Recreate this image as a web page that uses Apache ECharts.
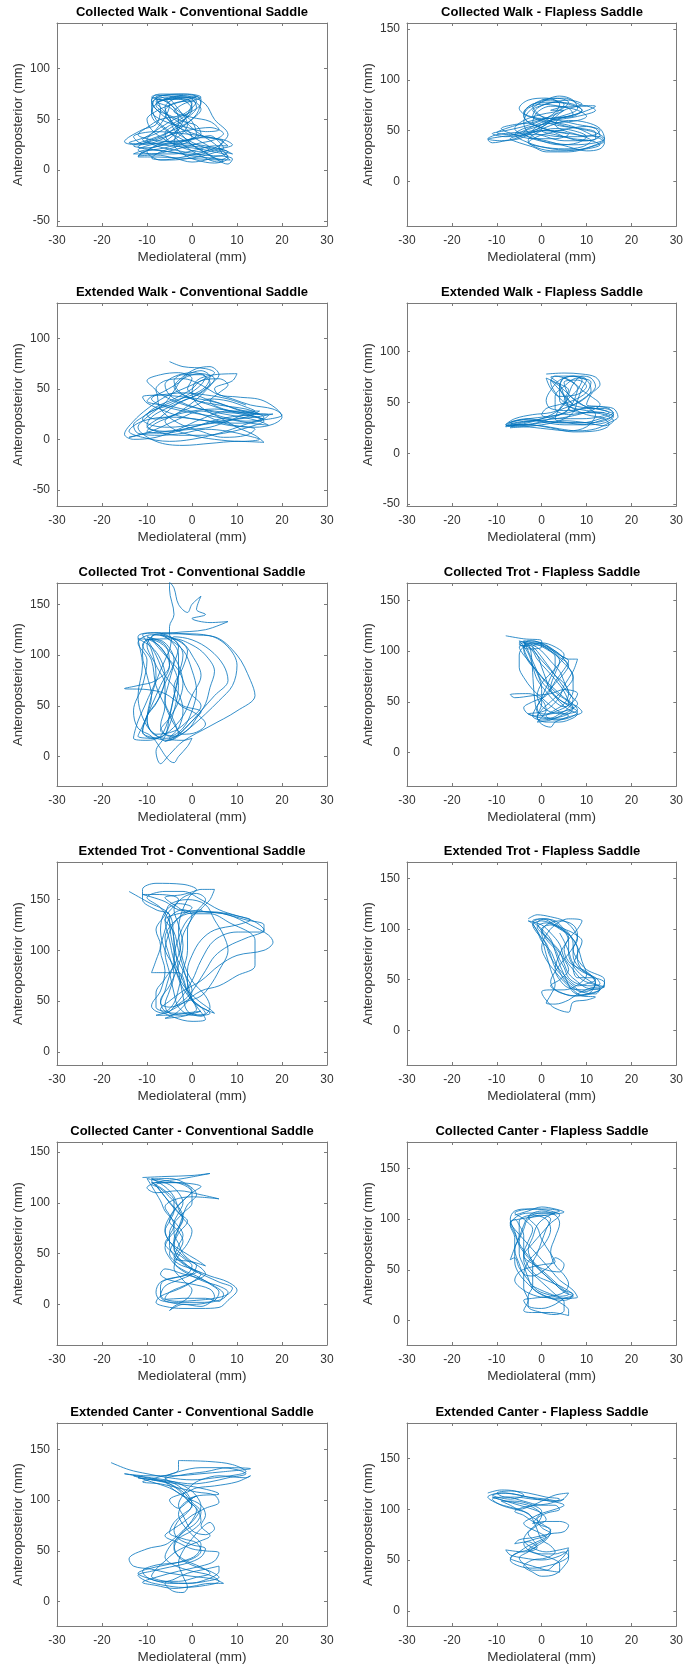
<!DOCTYPE html>
<html>
<head>
<meta charset="utf-8">
<script src="https://cdn.jsdelivr.net/npm/echarts@6/dist/echarts.min.js"></script>
<style>
html,body{margin:0;padding:0;background:#fff;}
#main{width:686px;height:1667px;}
</style>
</head>
<body>
<div id="main"></div>
<script>
// panel titles, left column = conventional saddle, right = flapless
var titles = [
    "Collected Walk - Conventional Saddle", "Collected Walk - Flapless Saddle",
    "Extended Walk - Conventional Saddle", "Extended Walk - Flapless Saddle",
    "Collected Trot - Conventional Saddle", "Collected Trot - Flapless Saddle",
    "Extended Trot - Conventional Saddle", "Extended Trot - Flapless Saddle",
    "Collected Canter - Conventional Saddle", "Collected Canter - Flapless Saddle",
    "Extended Canter - Conventional Saddle", "Extended Canter - Flapless Saddle"
];
var yMins = [-55, -44, -66, -52, -29, -33, -13, -34, -40, -24, -24, -15];
var yMaxs = [145, 156, 135, 148, 171, 167, 187, 166, 160, 176, 176, 185];
var xTicks = [-30, -20, -10, 0, 10, 20, 30];
var yTickSets = [
    [-50, 0, 50, 100], [0, 50, 100, 150],
    [-50, 0, 50, 100], [-50, 0, 50, 100],
    [0, 50, 100, 150], [0, 50, 100, 150],
    [0, 50, 100, 150], [0, 50, 100, 150],
    [0, 50, 100, 150], [0, 50, 100, 150],
    [0, 50, 100, 150], [0, 50, 100, 150]
];

// mediolateral / anteroposterior paths (mm)
var cwConv = [[-5,72],[-1,73],[2,70],[1,55],[-3,40],[-8,28],[-12,25],[-15,28],[-11,40],[-8,45],[-7,60],[-8,72],[-4,74],[0,72],[3,65],[5,50],[8,35],[6,22],[8.5,10],[5,12],[2,20],[-2,30],[-6,40],[-9,55],[-8,70],[-5,66],[-3,50],[-4,35],[-9,22],[-12,14],[-8,15],[-4,12],[0,8],[3,10],[6,14],[9,11],[8,6],[4,15],[0,25],[-4,45],[-6,62],[-2,72],[1,68],[-2,55],[-7,50],[-10,42],[-12,35],[-9,30],[-4,28],[2,32],[7,30],[9,25],[5,20],[1,15],[-3,17],[-8,20],[-12,23],[-10,28],[-6,35],[-3,45],[0,60],[-3,70],[-7,68],[-9,58],[-6,48],[-1,42],[3,38],[6,40],[4,48],[0,52],[-4,58],[-2,65],[2,72],[-1,75],[-6,74],[-9,65],[-8,50],[-5,38],[-2,25],[2,14],[6,8],[8,12],[5,26],[1,38],[-2,50],[-5,62],[-8,68],[-6,72],[-3,60],[-1,45],[-4,30],[-10,18],[-7,10],[-2,13],[4,20],[7,28],[3,33],[-2,36],[-8,38],[-13,33],[-11,26],
    [-9,26],[-5,24],[0,22],[5,18],[8,14],[6,10],[2,11],[-3,12],[-8,13],[-12,13],[-11,18],[-6,22],[-2,28],[1,35],[0,48],[-3,58],[-6,68],[-9,72],[-7,75],[-3,75],[1,73],[2,66],[0,58],[-4,50],[-7,42],[-9,36],[-11,30],[-7,26],[-2,26],[3,24],[7,20],[9,16],[7,18],[3,22],[-1,30],[-4,40],[-5,52],[-7,62],[-8,66],[-5,70],[-1,70],[0,62],[-2,52],[-5,44],[-8,36],[-12,30],[-14,27],[-12,26],[-8,30],[-4,36],[0,40],[4,42],[7,36],[5,30],[1,26],[-4,20],[-9,16],[-13,16],[-10,20],[-5,18],[0,14],[4,12],[7,9],[5,7],[1,10],[-2,16],[-4,26],[-3,40],[-1,55],[0,66],[-4,72],[-8,74],[-9,68],[-7,56],[-4,46],[-1,36],[2,28],[4,22],[2,18],[-2,22],[-6,30],[-9,40],[-10,50],[-8,58],[-5,64],[-2,68],[1,72],
    [-6,70],[-3,72],[0,70],[1,62],[-1,52],[-4,44],[-6,36],[-5,28],[-1,24],[4,22],[8,18],[6,14],[1,16],[-4,20],[-8,24],[-10,30],[-8,40],[-6,52],[-5,64],[-7,72],[-9,70],[-8,60],[-5,54],[-2,48],[1,44],[2,36],[-1,30],[-6,28],[-10,24],[-12,20],[-9,16],[-4,16],[1,20],[5,24],[8,24],[6,30],[2,34],[-2,40],[-5,48],[-6,58],[-4,66],[0,68],[2,60],[0,50],[-3,42],[-7,34],[-11,28],[-13,24],[-10,22],[-5,26],[0,30],[4,34],[6,28],[7,22],[4,16],[0,12],[-5,10],[-9,12],[-7,18],[-3,24],[0,32],[-2,44],[-6,56],[-8,64],[-6,70],[-2,74]];
var cwFlap = [[0,80],[5,82],[9,75],[12,74],[9,68],[4,62],[0,58],[-3,52],[-6,46],[-9,44],[-12,41],[-11,38],[-8,40],[-5,42],[-2,48],[2,55],[6,60],[10,58],[13,52],[14,42],[12,36],[8,31],[3,30],[-1,33],[-3,40],[-1,48],[3,52],[7,50],[10,44],[8,38],[4,36],[0,40],[-3,48],[-4,58],[-3,68],[0,78],[4,84],[7,80],[8,72],[5,65],[1,62],[-3,64],[-5,72],[-3,80],[1,82],[4,76],[3,68],[0,60],[-4,54],[-8,50],[-11,47],[-8,44],[-4,46],[0,50],[5,48],[9,45],[13,44],[14,40],[11,34],[6,29],[1,29],[-2,34],[-5,38],[-7,42],[-4,46],[1,56],[5,70],[9,76],[6,80],[1,76],[-2,70],[0,64],[4,60],[8,56],[12,52],[13,45],[10,40],[5,40],[1,44],[-2,50],[0,56],[3,62],[7,66],[6,72],[2,74],[-1,68],[-2,58],[2,50],[6,46],[3,42],[-2,42],[-6,46],[-9,52],[-6,56],[-2,58],[2,64],[5,70],
    [2,70],[6,74],[10,74],[12,70],[8,64],[3,60],[-1,54],[-4,48],[-2,42],[2,38],[7,36],[12,38],[14,42],[12,48],[8,52],[4,56],[0,64],[-2,74],[0,80],[3,82],[6,78],[4,70],[0,66],[-4,60],[-6,52],[-3,44],[1,40],[6,34],[10,30],[13,32],[14,38],[11,46],[7,54],[3,58],[-1,62],[-4,68],[-2,76],[2,80],[5,76],[3,66],[1,56],[-2,50],[-6,48],[-10,46],[-12,42],[-9,40],[-6,42],[-3,46],[0,46],[4,44],[8,44],[12,46],[13,50],[10,54],[6,52],[2,48],[-1,44],[-3,38],[0,34],[5,32],[9,34],[11,40],[8,46],[5,50],[3,56],[4,62],[7,64],[9,70],[6,76],[2,78],[-2,76],[-4,66],[-3,58],[0,52],
    [0,50],[3,46],[7,42],[11,40],[13,36],[10,32],[5,31],[0,34],[-4,40],[-6,46],[-4,52],[0,56],[4,58],[8,60],[10,64],[8,70],[4,74],[0,76],[-3,72],[-4,64],[-2,56],[2,50],[5,44],[9,40],[12,42],[12,48],[9,52],[5,54],[1,58],[-2,64],[-1,72],[3,78],[7,76],[9,70],[6,64],[2,62],[-2,60],[-5,56],[-8,52],[-10,48],[-7,46],[-3,48],[1,50],[5,50]];
var ewConv = [[-5,77],[-2,72],[3,70],[5,66],[2,58],[-2,50],[-6,42],[-10,30],[-13,18],[-15,5],[-13,0],[-8,2],[-3,10],[2,20],[8,28],[15,28],[12,22],[6,18],[0,12],[-6,6],[-10,8],[-8,16],[-4,24],[0,36],[3,48],[5,60],[2,65],[-2,60],[-4,48],[-6,36],[-10,22],[-12,12],[-8,-2],[-2,-6],[4,-4],[10,-2],[16,-3],[14,4],[10,12],[6,22],[2,32],[0,45],[1,58],[5,64],[10,65],[9,58],[5,50],[6,44],[10,42],[16,38],[20,22],[18,15],[14,12],[8,15],[2,25],[-4,32],[-10,38],[-8,44],[-2,42],[4,38],[10,30],[16,22],[12,15],[6,6],[0,0],[-5,-2],[-11,2],[-14,8],[-11,18],[-5,22],[1,20],[8,14],[14,10],[12,4],[7,2],[2,8],[-3,16],[-7,30],[-8,48],[-10,58],[-7,64],[-3,66],[0,60],[-1,50],[2,42],[6,36],[11,28],[15,25],[12,30],[6,34],[0,40],[-4,52],[-2,62],[1,70],[4,72],[6,64],[4,54],[1,44],[-3,36],[-7,22],[-10,12],[-6,8],[0,12],[6,20],[12,24],[18,25],
    [14,22],[10,20],[5,16],[0,14],[-5,12],[-9,14],[-11,20],[-9,28],[-5,34],[-1,44],[2,54],[3,62],[0,66],[-4,62],[-6,54],[-5,44],[-2,36],[2,30],[6,26],[11,22],[15,18],[17,14],[13,16],[8,20],[3,24],[-2,28],[-7,34],[-9,40],[-6,48],[-3,56],[-1,64],[2,68],[4,62],[3,52],[0,44],[-4,38],[-8,30],[-11,22],[-13,14],[-12,6],[-7,4],[-2,6],[3,10],[8,8],[12,4],[15,0],[11,-2],[5,0],[0,4],[-4,10],[-6,18],[-3,26],[1,34],[4,40],[8,38],[12,32],[14,28],[10,26],[5,28],[0,32],[-5,40],[-8,50],[-6,58],[-2,60],[2,54],[5,46],[9,40],[13,34],[18,30],[20,24],[17,20],[12,18],[7,22],[2,28],[-3,20],[-8,10],[-12,4],[-14,2],
    [-10,6],[-5,8],[0,10],[4,12],[8,18],[12,24],[16,20],[12,24],[8,28],[4,34],[0,40],[-3,48],[-4,58],[-2,64],[2,64],[4,56],[2,46],[-2,38],[-6,30],[-9,22],[-10,14],[-8,8],[-3,4],[2,4],[7,6],[11,10],[14,14],[16,18],[13,24],[9,28],[5,30],[0,28],[-4,24],[-8,20],[-10,24],[-8,32],[-4,40],[0,50],[2,58],[6,60],[8,54],[6,46],[4,38],[7,30],[12,26],[17,24],[15,18],[10,16],[4,18],[-2,22],[-6,28],[-10,36],[-11,42],[-7,44],[-2,46],[3,44],[8,40],[12,34]];
var ewFlap = [[1,78],[5,79],[9,78],[12,75],[13,68],[11,58],[10,48],[13,46],[16,44],[17,36],[15,30],[12,24],[8,22],[4,24],[0,27],[-4,28],[-8,26],[-7,30],[-3,34],[1,36],[5,40],[7,50],[8,62],[9,72],[7,76],[4,72],[2,62],[1,52],[2,44],[6,42],[10,44],[14,44],[16,40],[13,34],[9,30],[4,30],[0,32],[-4,33],[-7,30],[-5,28],[-1,30],[3,36],[6,44],[5,56],[4,68],[2,75],[6,76],[10,72],[11,62],[9,52],[6,46],[2,40],[-2,38],[-6,34],[-8,28],[-5,27],[0,30],[5,32],[10,30],[14,27],[16,32],[14,38],[10,40],[6,38],[3,44],[3,56],[5,66],[8,74],[11,70],[10,60],[7,52],[4,48],[1,44],[0,38],[4,34],[9,34],[13,36],[15,40],[12,44],[8,46],[5,52],[6,62],[3,70],[1,74],[2,64],[4,56],[8,58],[10,66],[8,72],[5,70],[6,58],[9,48],[12,38],[10,26],[6,22],[1,24],[-4,26],[-7,25],
    [-6,28],[-2,32],[2,36],[6,40],[9,44],[12,46],[15,44],[16,38],[13,32],[9,28],[5,28],[1,30],[-2,32],[-6,30],[-8,27],[-4,29],[0,34],[3,40],[5,48],[6,58],[7,68],[9,76],[11,74],[12,66],[10,56],[8,50],[6,44],[9,40],[13,40],[16,36],[14,30],[10,28],[6,30],[3,34],[4,44],[6,54],[8,64],[6,72],[3,76],[2,70],[3,60],[5,50],[7,44],[10,38],[14,34],[15,28],[12,22],[7,21],[2,25],[-3,28],[-7,28],[-4,31],[1,33],[6,36],[11,42],[13,48],[11,56],[9,62],[7,70],[5,74],[4,66],[5,56],[7,48],
    [2,72],[4,66],[6,58],[8,50],[10,46],[14,42],[16,38],[14,32],[10,30],[5,30],[0,32],[-3,34],[-6,32],[-8,28],[-5,26],[0,28],[4,32],[7,40],[8,52],[9,64],[10,72],[8,76],[5,74],[4,64],[4,52],[6,46],[10,42],[14,40]];
var ctConv = [[-6,15],[-10,30],[-12,60],[-11,90],[-12,118],[-8,122],[-4,115],[-2,100],[-3,80],[-4,60],[-5,40],[-7,20],[-10,16],[-13,18],[-12,35],[-10,55],[-8,80],[-9,105],[-11,120],[-6,122],[0,120],[5,118],[10,100],[13,75],[14,60],[10,45],[4,30],[-2,15],[-5,2],[-7,-7],[-8,5],[-6,20],[-4,45],[-3,70],[-5,95],[-8,112],[-10,118],[-6,110],[-5,90],[-7,70],[-9,50],[-11,30],[-12,20],[-8,18],[-5,25],[-2,40],[0,60],[2,80],[0,100],[-2,112],[-5,120],[-5,128],[-4,140],[-5,165],[-5,172],[-4,166],[-3,150],[-1,142],[0,150],[2,158],[1,145],[3,140],[0,136],[4,132],[8,133],[3,125],[-4,122],[-9,118],[-6,100],[-3,85],[-1,65],[2,50],[-1,35],[-4,25],[-8,22],[-10,35],[-9,60],[-7,85],[-5,105],[-4,118],[0,115],[4,105],[7,90],[8,75],[5,60],[2,45],[-1,30],[-4,18],[-6,15],[-3,22],[0,35],[2,44],[-2,50],[-6,62],[-10,66],[-15,67],[-12,70],[-8,75],[-5,90],[-7,108],[-10,116],[-8,100],[-6,80],[-3,62],[-2,45],[-3,28],[-5,18],[-2,16],[0,18],[-1,10],[-3,0],[-4,-6],
    [-9,20],[-12,28],[-13,45],[-11,70],[-10,95],[-12,112],[-9,120],[-5,118],[-3,108],[-4,92],[-6,72],[-8,52],[-10,38],[-9,24],[-6,18],[-3,22],[-4,35],[-6,55],[-5,75],[-4,95],[-6,112],[-9,116],[-11,110],[-9,95],[-8,70],[-6,50],[-4,32],[-2,22],[1,24],[3,32],[1,42],[-3,52],[-4,68],[-2,88],[-1,104],[-3,114],[-7,120],[-2,121],[4,119],[8,108],[10,90],[9,70],[6,55],[3,42],[0,30],[-3,20],[-5,16],[-8,18],[-11,24],[-10,40],[-7,60],[-6,80],[-7,96],[-9,108],[-12,116],[-8,114],[-5,104],[-3,90],[-2,72],[-3,54],[-5,38],[-7,26],[-4,20],[-1,26],[1,38],[3,52],[4,68],[5,84],[3,100],[0,110],[-4,116],
    [-10,115],[-11,100],[-10,80],[-9,60],[-10,40],[-11,25],[-9,18],[-6,22],[-5,40],[-4,60],[-3,80],[-3,100],[-5,115],[-8,120],[-10,110],[-8,90],[-6,70],[-6,50],[-7,30],[-5,20],[-2,28],[0,45],[1,65],[0,85],[-2,105],[-6,118]];
var ctFlap = [[-8,115],[-4,112],[0,110],[0,104],[-3,102],[-5,108],[-2,110],[2,100],[5,88],[7,75],[7,60],[6,50],[8,45],[9,40],[6,35],[3,30],[2,25],[0,28],[-1,35],[0,48],[0,62],[-1,78],[-3,92],[-4,104],[-1,108],[3,100],[6,92],[8,92],[7,80],[5,66],[4,55],[2,45],[0,40],[-3,38],[-1,36],[2,38],[6,42],[8,48],[6,58],[4,70],[2,82],[0,94],[-2,104],[-5,110],[-3,98],[-2,85],[-1,72],[1,60],[3,50],[5,45],[7,50],[8,58],[5,62],[2,58],[-2,56],[-6,54],[-7,57],[-3,58],[0,52],[1,42],[-1,30],[2,32],[5,38],[7,44],[4,52],[2,64],[3,78],[4,90],[2,100],[-1,106],[-4,104],[-5,96],[-5,84],[-4,74],[-2,62],[0,54],[2,46],[4,40],[6,36],[4,33],[0,34],[-3,38],[-4,44],[-2,50],[1,56],[3,70],[5,82],[6,90],[4,96],[1,104],[-2,108],[-4,108],[-2,100],[-1,92],[1,82],[3,72],[5,60],[6,48],[4,42],[1,38],[-1,40],
    [-3,106],[-5,104],[-4,96],[-2,86],[0,74],[2,64],[4,56],[6,50],[7,44],[6,38],[3,34],[0,32],[-2,36],[-1,46],[1,58],[3,68],[5,78],[6,86],[4,94],[2,102],[0,108],[-3,110],[-4,102],[-3,90],[-1,80],[1,70],[3,62],[5,54],[7,48],[8,42],[5,38],[2,40],[0,46],[-1,56],[0,68],[2,78],[4,88],[5,96],[3,104],[0,108],[-2,104],[-1,96],[1,86],[3,76],[5,68],[6,58],[5,48],[3,42],[1,36],[3,32],[6,34],[8,40],[6,46],[4,52],[2,60],[1,72],[0,84],[-1,96],[-3,104],[-5,106],
    [-4,108],[-2,106],[0,100],[2,90],[4,80],[5,70],[6,60],[7,52],[6,44],[4,38],[2,34],[0,36],[-1,44],[0,54],[1,64],[2,74],[3,84],[3,94],[1,102],[-2,108],[-4,110],[-3,100],[-2,90],[-1,80],[0,70],[2,60],[4,50],[6,42],[8,38],[7,34],[4,30],[1,30],[-1,34],[0,42],[2,50],[4,58],[6,66],[7,74],[6,84],[5,92],[3,100],[1,106]];
var etConv = [[-14,158],[-10,148],[-5,135],[-4,110],[-3,80],[-2,55],[-1,40],[2,35],[4,44],[3,55],[0,70],[-2,90],[-3,120],[-1,150],[2,160],[5,160],[4,150],[2,140],[7,136],[12,130],[16,125],[16,118],[10,118],[5,110],[2,90],[0,70],[-3,50],[-6,38],[-8,40],[-9,45],[-7,60],[-6,80],[-7,100],[-6,120],[-5,135],[-8,140],[-11,150],[-11,160],[-8,166],[-2,165],[1,160],[-2,155],[-6,152],[-4,145],[0,136],[4,136],[8,128],[14,110],[14,85],[10,75],[6,65],[2,60],[-2,48],[-5,40],[-8,36],[-5,36],[-1,38],[2,36],[4,38],[0,50],[-2,70],[-4,90],[-5,110],[-6,130],[-3,150],[-8,155],[-11,155],[-6,148],[-3,140],[3,138],[8,135],[13,125],[17,115],[18,108],[16,100],[10,95],[6,85],[2,70],[-2,60],[-5,50],[-7,42],[-4,34],[0,30],[3,32],[1,45],[-1,60],[-3,78],[-9,78],[-8,90],[-7,105],[-8,120],[-6,135],[-5,145],[-1,150],[3,145],[5,130],[7,115],[8,100],[6,80],[4,65],[2,55],[-1,50],[-5,44],[-7,48],[-6,60],[-5,75],[-3,95],[-2,115],[0,135],[-2,140],[-5,130],[-4,100],[-2,80],[0,60],[-3,40],[-6,33],[-2,35],[2,40],
    [-3,38],[-6,40],[-7,50],[-5,65],[-3,85],[-2,105],[-3,125],[-4,140],[-2,152],[1,156],[3,150],[1,138],[-1,120],[-1,100],[-2,80],[-3,62],[-4,48],[-6,40],[-8,44],[-8,58],[-6,72],[-4,88],[-4,108],[-5,128],[-7,142],[-10,152],[-6,158],[-2,158],[2,150],[6,140],[10,134],[13,130],[10,125],[5,120],[2,110],[0,95],[-1,80],[-1,65],[0,52],[2,44],[3,38],[0,36],[-3,44],[-4,58],[-5,78],[-6,98],[-5,118],[-3,132],[0,142],[-3,146],[-6,138],[-7,120],[-6,100],[-4,84],[-2,66],[1,52],[4,42],[5,38],[2,44],[-1,56],[-3,72],[-4,92],[-3,112],[-1,130],[2,140],
    [-6,130],[-4,118],[-3,100],[-2,84],[-1,68],[0,52],[1,42],[-2,36],[-5,38],[-6,46],[-5,60],[-4,76],[-5,94],[-6,112],[-4,128],[-1,136],[4,138],[10,134],[14,128],[16,120],[12,112],[8,104],[5,94],[3,80],[1,66],[-1,54],[-4,44]];
var etFlap = [[-3,110],[-1,114],[2,112],[5,108],[7,100],[8,90],[7,80],[8,70],[10,60],[14,50],[14,44],[11,42],[8,36],[6,30],[3,26],[1,27],[2,35],[3,45],[2,60],[1,75],[0,90],[-2,105],[-3,108],[0,104],[2,96],[4,85],[5,72],[7,60],[9,50],[12,45],[14,43],[10,40],[6,42],[4,50],[3,60],[4,75],[6,90],[8,100],[9,108],[6,110],[3,104],[1,94],[0,82],[1,70],[3,58],[5,48],[7,40],[9,34],[12,33],[10,30],[7,28],[6,18],[4,20],[2,25],[0,38],[2,40],[5,40],[8,45],[10,55],[9,68],[8,82],[6,95],[3,104],[0,110],[-2,108],[0,100],[2,90],[3,78],[4,65],[5,55],[6,45],[7,38],[9,35],[11,38],[12,48],[10,58],[8,62],[6,68],[5,80],[6,92],[4,100],[1,106],[-1,102],[1,92],[3,82],[5,70],[6,60],[4,50],[2,44],[4,38],[7,34],[10,36],[13,40],[14,47],[11,52],[8,52],[7,62],[8,76],[9,88],[7,96],[5,100],
    [3,104],[0,108],[-2,104],[-1,96],[1,86],[2,74],[3,62],[5,52],[7,44],[9,38],[12,36],[13,42],[11,48],[9,54],[7,64],[6,76],[6,88],[5,98],[3,106],[1,110],[-1,106],[0,98],[2,88],[4,78],[5,66],[6,56],[8,48],[10,42],[13,40],[11,36],[8,34],[5,36],[3,40],[2,48],[3,58],[5,70],[7,82],[8,94],[7,104],[4,108],[1,104],[0,96],[1,84],[2,72],[4,60],[6,50],[8,44],[10,46],[12,50],[10,56],[8,64],[7,74],[7,86],[6,96],
    [5,100],[3,108],[0,110],[-2,106],[-1,98],[0,88],[2,78],[3,68],[4,58],[5,50],[7,42],[9,38],[11,40],[12,46],[11,54],[9,60],[8,70],[8,80],[7,90],[5,98],[2,104],[0,100],[1,90],[3,80],[4,70],[5,62],[6,52],[8,46],[11,44],[13,46],[12,52],[9,58],[7,66],[6,78],[5,88],[4,96]];
var ccConv = [[-11,125],[-6,126],[0,127],[4,129],[-2,124],[-8,120],[-10,115],[-8,110],[-3,112],[2,108],[6,104],[0,106],[-4,103],[-6,96],[-5,88],[-4,78],[-5,68],[-6,60],[-4,50],[-2,42],[0,35],[2,30],[0,22],[-3,15],[-7,8],[-8,2],[-6,-2],[-2,-4],[2,-4],[6,-3],[8,4],[10,14],[8,22],[4,28],[0,35],[-3,40],[-5,50],[-4,62],[-3,75],[-2,88],[-1,98],[1,108],[-1,118],[-5,124],[-9,122],[-7,112],[-5,100],[-3,90],[-1,82],[-3,70],[-4,58],[-3,45],[-1,38],[1,32],[-2,28],[-6,24],[-7,18],[-7,10],[-6,5],[-2,6],[3,6],[6,3],[7,10],[5,18],[2,25],[-2,30],[-6,35],[-7,30],[-5,24],[0,20],[4,15],[5,8],[2,-2],[-2,0],[-5,-6],[-4,-2],[-1,6],[0,14],[-2,24],[-4,36],[-3,48],[-1,60],[0,72],[-2,85],[-4,96],[-6,106],[-8,118],[-4,120],[2,116],[0,110],[-3,98],[-5,86],[-6,74],[-5,62],[-2,52],[1,44],[3,38],[0,42],[-4,46],[-3,58],[-2,68],[-4,82],[-6,92],[-7,102],[-10,124],
    [-8,122],[-5,118],[-3,110],[-2,100],[-3,90],[-4,80],[-4,70],[-3,60],[-2,50],[0,42],[2,36],[3,30],[1,24],[-2,18],[-5,12],[-6,6],[-3,3],[1,4],[5,6],[8,10],[9,16],[6,22],[3,28],[0,34],[-2,40],[-4,48],[-5,58],[-5,70],[-4,80],[-2,90],[0,100],[0,110],[-2,118],[-6,122],[-9,124],[-6,116],[-4,106],[-3,94],[-2,84],[-3,74],[-4,64],[-4,54],[-2,46],[0,38],[-1,30],[-4,26],[-7,22],[-8,12],[-7,4],[-3,2],[2,2],[5,4],[6,12],[4,20],[1,28],[-2,34],[-4,42],[-3,52],[-2,62],[-3,72],[-5,82],[-4,92],[-2,102],[0,112],[-3,120],
    [-9,120],[-6,112],[-4,102],[-4,92],[-5,82],[-6,72],[-5,62],[-3,52],[-1,44],[1,38],[0,30],[-3,24],[-6,18],[-7,8],[-5,2],[0,0],[4,2],[7,6],[8,12],[6,18],[3,22],[0,28],[-3,36],[-5,46],[-6,56],[-5,66],[-3,76],[-2,86],[-3,96],[-5,106],[-7,114],[-9,118]];
var ccFlap = [[-6,104],[-3,108],[0,112],[3,110],[5,107],[1,104],[-2,102],[-5,100],[-7,97],[-6,90],[-4,80],[-2,70],[0,60],[2,50],[4,40],[7,30],[8,23],[5,22],[2,25],[-1,30],[-3,40],[-5,52],[-6,62],[-7,60],[-6,72],[-5,85],[-5,98],[-2,104],[1,100],[2,90],[1,78],[-1,68],[-3,58],[-4,45],[-4,32],[-3,20],[-4,10],[-2,8],[2,8],[6,5],[6,10],[4,18],[2,22],[-1,24],[-4,30],[-6,40],[-5,48],[-3,52],[0,55],[3,58],[2,66],[0,80],[-1,92],[-3,102],[0,108],[3,104],[4,96],[3,82],[2,68],[3,55],[5,45],[6,36],[5,28],[2,24],[-2,22],[-4,20],[-3,14],[0,12],[3,16],[5,22],[7,25],[5,32],[2,38],[-1,44],[-3,54],[-4,66],[-3,78],[-2,90],[-4,100],[-6,106],[-2,110],[2,108],[4,104],[2,96],[0,86],[-2,76],[-4,64],[-2,56],[1,50],[4,48],[5,55],[3,62],[2,55],[0,48],[-2,44],[-4,46],[-5,56],[-6,70],[-6,82],[-7,94],
    [-5,104],[-2,106],[2,106],[4,108],[1,110],[-3,110],[-6,108],[-7,100],[-6,88],[-5,76],[-3,64],[-1,54],[1,46],[3,38],[5,30],[7,26],[6,22],[3,22],[0,26],[-2,32],[-3,42],[-4,54],[-5,66],[-5,78],[-4,90],[-3,100],[0,104],[2,100],[1,90],[0,78],[-1,66],[-2,56],[-2,44],[-2,34],[-3,24],[-3,14],[0,8],[3,6],[5,10],[5,18],[3,26],[1,34],[-1,42],[-3,50],[-4,60],[-4,72],[-4,84],[-5,94],[-6,100],
    [-7,96],[-6,86],[-5,74],[-3,62],[-1,52],[1,44],[3,36],[5,28],[7,24],[5,20],[2,22],[-1,28],[-3,36],[-5,46],[-6,58],[-6,70],[-5,82],[-4,94],[-3,102],[0,106],[3,106],[1,102],[-1,94],[-2,82],[-3,70],[-2,58],[0,48],[2,40],[4,32],[6,26],[4,24],[1,28],[-2,34]];
var ecConv = [[-18,137],[-14,130],[-10,126],[-5,122],[0,120],[5,122],[10,125],[12,128],[9,135],[4,138],[-3,139],[-3,130],[-8,122],[-11,118],[-7,116],[-3,112],[1,108],[5,105],[6,98],[3,92],[0,85],[-2,78],[-4,72],[-6,65],[-3,58],[0,52],[3,50],[6,48],[5,40],[2,35],[-3,30],[-8,24],[-11,19],[-8,16],[-4,13],[0,15],[4,18],[7,18],[5,22],[0,25],[-5,28],[-9,32],[-13,35],[-14,42],[-10,52],[-6,56],[-4,62],[-2,70],[0,80],[1,90],[-1,100],[-3,110],[-6,118],[-10,122],[-15,126],[-10,124],[-4,124],[2,126],[7,128],[13,131],[8,132],[3,128],[-2,125],[-6,120],[-4,110],[-1,102],[2,95],[3,85],[2,75],[4,65],[2,60],[-1,55],[-4,48],[-6,40],[-8,32],[-9,25],[-6,20],[-2,18],[2,20],[6,30],[6,35],[3,32],[-1,28],[-4,22],[-6,18],[-4,10],[-2,9],[-1,14],[-2,25],[-3,38],[-2,50],[0,62],[2,72],[4,78],[5,72],[3,66],[0,70],[-2,85],[-3,95],[-2,105],[0,115],[2,120],[6,124],[12,122],[13,124],[10,118],[5,114],[1,112],[-1,108],[-5,100],[-3,92],[-1,98],[1,104],[6,106],
    [-12,122],[-8,120],[-4,118],[0,116],[4,118],[8,122],[12,126],[10,130],[6,132],[2,132],[-3,128],[-6,122],[-3,114],[-1,106],[0,96],[-1,88],[-3,80],[-4,70],[-3,62],[0,56],[3,52],[2,44],[-1,38],[-5,34],[-9,30],[-12,26],[-10,20],[-6,16],[-2,14],[3,16],[6,20],[4,26],[0,30],[-4,36],[-6,44],[-5,54],[-3,64],[-1,74],[1,84],[2,94],[1,104],[-1,112],[-4,118],[-9,122],[-13,124],[-9,118],[-5,112],[-2,104],[0,94],[-2,86],[-4,78],[-5,68],[-2,62],[1,58],[2,50],[0,42],[-4,38],[-8,36],[-11,30],[-10,24],[-7,20],[-3,20],[1,24],[4,28],[2,34],[-2,42],[-4,52],[-3,62],[0,70],[2,80],[1,92],[-1,100],
    [1,104],[-2,96],[-3,86],[-2,76],[0,66],[2,56],[1,46],[-2,40],[-6,36],[-10,32],[-12,28],[-9,22],[-5,18],[-1,18],[3,20],[6,24],[4,30],[0,36],[-3,44],[-4,56],[-2,68],[1,78],[2,88],[0,98],[-2,108],[-5,116],[-9,120]];
var ecFlap = [[-12,116],[-9,119],[-6,118],[-4,114],[-7,110],[-11,114],[-8,116],[-3,112],[1,110],[4,108],[6,116],[3,114],[0,108],[-2,104],[-5,100],[-7,104],[-9,108],[-6,108],[-2,104],[0,98],[-1,92],[-2,86],[1,88],[4,88],[6,84],[5,78],[2,76],[-2,72],[-5,70],[-6,66],[-3,68],[-1,62],[-4,58],[-8,60],[-7,55],[-4,52],[0,50],[4,54],[6,60],[6,52],[5,44],[3,36],[0,34],[-2,38],[-4,44],[-2,50],[1,52],[3,58],[2,64],[0,70],[-1,80],[-2,90],[-3,96],[-6,100],[-9,104],[-11,110],[-8,112],[-4,108],[0,104],[3,104],[4,100],[1,96],[-1,90],[0,82],[2,76],[0,70],[-3,64],[-5,58],[-7,52],[-5,48],[-2,44],[1,40],[4,38],[4,46],[2,52],[-1,56],[-3,60],[-1,66],[1,72],[-1,78],[-3,82],[-4,86],[-2,92],[0,96],[3,100],[5,104],[2,108],[-2,110],[-6,112],
    [-8,112],[-10,116],[-7,118],[-3,116],[1,112],[4,110],[2,106],[-1,104],[-4,102],[-6,98],[-4,94],[-2,88],[0,84],[2,80],[1,74],[-2,70],[-4,66],[-3,60],[0,56],[3,56],[5,58],[6,54],[4,48],[1,44],[-2,42],[-5,44],[-7,50],[-6,56],[-3,60],[-1,64],[-2,70],[-3,76],[-1,84],[1,90],[0,96],[-2,100],[-5,104],[-8,108],[-11,112],
    [-8,108],[-5,106],[-2,102],[0,94],[-1,86],[-3,78],[-4,70],[-2,62],[1,58],[4,60],[6,62],[5,54],[3,46],[1,40],[-2,40],[-4,46],[-5,52],[-3,58],[-1,64],[1,70],[2,78],[0,86],[-2,92],[-4,98],[-7,102],[-10,106],[-12,112],[-9,116],[-5,114],[-1,110],[3,108],[5,110]];

var paths = [cwConv, cwFlap, ewConv, ewFlap, ctConv, ctFlap, etConv, etFlap, ccConv, ccFlap, ecConv, ecFlap];

var FONT = "'Liberation Sans', Arial, sans-serif";
var AXIS_COLOR = "#7a7a7a";
var TEXT_COLOR = "#333";

function buildOption() {
    var grids = [], xAxes = [], yAxes = [], series = [], titleList = [];
    for (var i = 0; i < 12; i++) {
        var col = i % 2;
        var row = Math.floor(i / 2);
        var gLeft = col == 0 ? 57 : 407;
        var gTop = row == 5 ? 1423 : Math.round(23 + row * 279.8);
        grids.push({left: gLeft, top: gTop, width: 270, height: 203});

        titleList.push({
            text: titles[i],
            left: gLeft + 135,
            top: gTop - 17,
            textAlign: "center",
            padding: 0,
            textStyle: {fontFamily: FONT, fontSize: 13, fontWeight: "bold", color: "#000"}
        });

        // bottom x axis
        xAxes.push({
            type: "value", gridIndex: i, position: "bottom",
            min: -30, max: 30, interval: 10,
            axisLine: {show: true, onZero: false, lineStyle: {color: AXIS_COLOR}},
            axisTick: {inside: true, length: 3, lineStyle: {color: AXIS_COLOR}},
            axisLabel: {margin: 9, fontFamily: FONT, fontSize: 12, color: TEXT_COLOR},
            splitLine: {show: false},
            name: "Mediolateral (mm)", nameLocation: "middle", nameGap: 24,
            nameTextStyle: {fontFamily: FONT, fontSize: 13.5, color: TEXT_COLOR}
        });
        // top x axis, closes the box
        xAxes.push({
            type: "value", gridIndex: i, position: "top",
            min: -30, max: 30, interval: 10,
            axisLine: {show: true, onZero: false, lineStyle: {color: AXIS_COLOR}},
            axisTick: {inside: true, length: 3, lineStyle: {color: AXIS_COLOR}},
            axisLabel: {show: false},
            splitLine: {show: false}
        });
        yAxes.push({
            type: "value", gridIndex: i, position: "left",
            min: yMins[i], max: yMaxs[i],
            axisLine: {show: true, onZero: false, lineStyle: {color: AXIS_COLOR}},
            axisTick: {inside: true, length: 3, customValues: yTickSets[i], lineStyle: {color: AXIS_COLOR}},
            axisLabel: {margin: 7, customValues: yTickSets[i], fontFamily: FONT, fontSize: 12, color: TEXT_COLOR},
            splitLine: {show: false},
            name: "Anteroposterior (mm)", nameLocation: "middle", nameGap: 32,
            nameTextStyle: {fontFamily: FONT, fontSize: 13, color: TEXT_COLOR}
        });
        yAxes.push({
            type: "value", gridIndex: i, position: "right",
            min: yMins[i], max: yMaxs[i],
            axisLine: {show: true, onZero: false, lineStyle: {color: AXIS_COLOR}},
            axisTick: {inside: true, length: 3, customValues: yTickSets[i], lineStyle: {color: AXIS_COLOR}},
            axisLabel: {show: false},
            splitLine: {show: false}
        });

        series.push({
            type: "line",
            xAxisIndex: 2 * i,
            yAxisIndex: 2 * i,
            data: paths[i],
            smooth: 0.35,
            showSymbol: false,
            clip: true,
            lineStyle: {color: "#0072BD", width: 0.8},
            silent: true
        });
    }
    return {
        animation: false,
        backgroundColor: "#fff",
        title: titleList,
        grid: grids,
        xAxis: xAxes,
        yAxis: yAxes,
        series: series
    };
}

var myChart = echarts.init(document.getElementById("main"));
myChart.setOption(buildOption());
</script>
</body>
</html>
